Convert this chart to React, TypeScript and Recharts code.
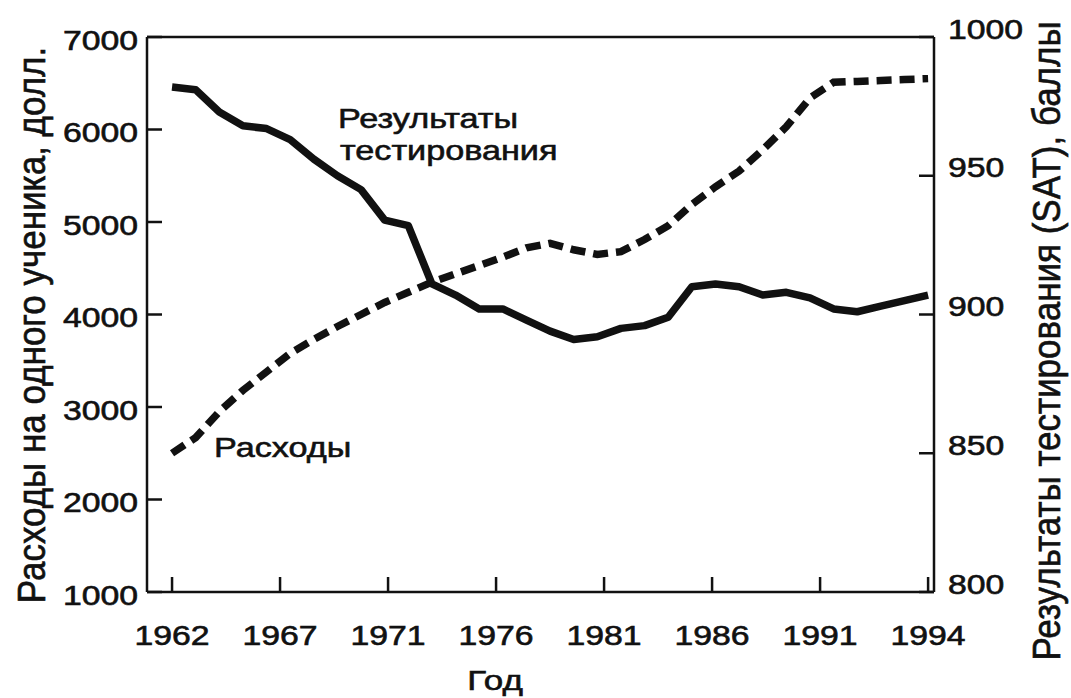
import React from 'react';
import { LineChart, Line, XAxis, YAxis, ReferenceLine } from 'recharts';

// годы наблюдений
const YEARS = [
  1962, 1963, 1964, 1965, 1966, 1967, 1968, 1969, 1970, 1971, 1972,
  1973, 1974, 1975, 1976, 1977, 1978, 1979, 1980, 1981, 1982, 1983,
  1984, 1985, 1986, 1987, 1988, 1989, 1990, 1991, 1992, 1993, 1994,
];

// расходы на одного ученика, долл. (левая ось)
const SPENDING = [
  2500, 2670, 2950, 3180, 3380, 3580, 3730, 3870, 4000, 4130, 4240,
  4350, 4440, 4530, 4620, 4720, 4770, 4700, 4650, 4680, 4810, 4960,
  5190, 5380, 5550, 5780, 6030, 6340, 6510, 6520, 6530, 6540, 6550,
];

// результаты SAT, баллы (правая ось)
const SAT = [
  982, 981, 973, 968, 967, 963, 956, 950, 945, 934, 932,
  911, 907, 902, 902, 898, 894, 891, 892, 895, 896, 899,
  910, 911, 910, 907, 908, 906, 902, 901, 903, 905, 907,
];

const X_LABELS = ['1962', '1967', '1971', '1976', '1981', '1986', '1991', '1994'];
const LEFT_TICKS = [1000, 2000, 3000, 4000, 5000, 6000, 7000];
const RIGHT_TICKS = [800, 850, 900, 950, 1000];

const data = YEARS.map((year, i) => ({ year, spend: SPENDING[i], sat: SAT[i] }));

// подписи на оси X стоят через равные промежутки
const xTicks = X_LABELS.map((_, i) => YEARS[0] + (i * (YEARS[YEARS.length - 1] - YEARS[0])) / (X_LABELS.length - 1));

const INK = '#111';
const FONT = "'Liberation Sans', Arial, sans-serif";
const STRETCH = 1.25;

// немного утолщаем шрифт, как на отсканированном оригинале
const heavy = { stroke: INK, strokeWidth: 0.6, paintOrder: 'stroke' } as const;

const LeftTick = (props: any) => {
  const { x, y, payload } = props;
  return (
    <g>
      <line x1={x} y1={y} x2={x + 15} y2={y} stroke={INK} strokeWidth={2.5} />
      <text
        transform={`translate(${x - 9},${y + 3}) scale(${STRETCH},1)`}
        textAnchor="end"
        dominantBaseline="central"
        fontSize={27}
        fontFamily={FONT}
        fill={INK}
        {...heavy}
      >
        {payload.value}
      </text>
    </g>
  );
};

const RightTick = (props: any) => {
  const { x, y, payload } = props;
  return (
    <g>
      <line x1={x} y1={y} x2={x - 15} y2={y} stroke={INK} strokeWidth={2.5} />
      <text
        transform={`translate(${x + 14},${y - 8}) scale(${STRETCH},1)`}
        textAnchor="start"
        dominantBaseline="central"
        fontSize={27}
        fontFamily={FONT}
        fill={INK}
        {...heavy}
      >
        {payload.value}
      </text>
    </g>
  );
};

const BottomTick = (props: any) => {
  const { x, y, index } = props;
  return (
    <g>
      <line x1={x} y1={y} x2={x} y2={y - 15} stroke={INK} strokeWidth={2.5} />
      <text
        transform={`translate(${x},${y + 43}) scale(${STRETCH},1)`}
        textAnchor="middle"
        dominantBaseline="central"
        fontSize={27}
        fontFamily={FONT}
        fill={INK}
        {...heavy}
      >
        {X_LABELS[index]}
      </text>
    </g>
  );
};

const App: React.FC = () => {
  return (
    <div style={{ position: 'absolute', left: 0, top: 0, width: 1071, height: 698, background: '#fff' }}>
      <LineChart width={1071} height={698} data={data} margin={{ top: 37, right: 0, bottom: 0, left: 0 }}>
        <XAxis
          dataKey="year"
          type="number"
          domain={[1960.94, 1994.25]}
          allowDataOverflow
          ticks={xTicks}
          interval={0}
          height={106}
          tickSize={0}
          tickMargin={0}
          tickLine={false}
          tick={<BottomTick />}
          axisLine={{ stroke: INK, strokeWidth: 2.5 }}
        />
        <YAxis
          yAxisId="left"
          domain={[1000, 7000]}
          ticks={LEFT_TICKS}
          interval={0}
          width={147}
          tickSize={0}
          tickMargin={0}
          tickLine={false}
          tick={<LeftTick />}
          axisLine={{ stroke: INK, strokeWidth: 2.5 }}
        />
        <YAxis
          yAxisId="right"
          orientation="right"
          domain={[800, 1000]}
          ticks={RIGHT_TICKS}
          interval={0}
          width={137}
          tickSize={0}
          tickMargin={0}
          tickLine={false}
          tick={<RightTick />}
          axisLine={{ stroke: INK, strokeWidth: 2.5 }}
        />
        <ReferenceLine yAxisId="left" y={7000} stroke={INK} strokeWidth={2.5} />
        <Line
          yAxisId="right"
          type="linear"
          dataKey="sat"
          stroke={INK}
          strokeWidth={7.5}
          strokeLinejoin="round"
          dot={false}
          isAnimationActive={false}
        />
        <Line
          yAxisId="left"
          type="linear"
          dataKey="spend"
          stroke={INK}
          strokeWidth={7.5}
          strokeDasharray="15 8"
          dot={false}
          isAnimationActive={false}
        />
      </LineChart>
      <svg
        width={1071}
        height={698}
        style={{ position: 'absolute', left: 0, top: 0, pointerEvents: 'none' }}
        fontFamily={FONT}
        fill={INK}
      >
        <g {...heavy}>
          <text transform={`translate(338,128) scale(1.2,1)`} fontSize={28.5}>Результаты</text>
          <text transform={`translate(340,160) scale(1.2,1)`} fontSize={28.5}>тестирования</text>
          <text transform={`translate(214,457) scale(1.2,1)`} fontSize={28.5}>Расходы</text>
          <text
            transform={`translate(495,680) scale(${STRETCH},1)`}
            textAnchor="middle"
            dominantBaseline="central"
            fontSize={28}
          >
            Год
          </text>
          <text
            transform={`translate(32,325) rotate(-90) scale(1,1.1)`}
            textAnchor="middle"
            dominantBaseline="central"
            fontSize={35}
          >
            Расходы на одного ученика, долл.
          </text>
          <text
            transform={`translate(1047,341) rotate(-90) scale(1,1.1)`}
            textAnchor="middle"
            dominantBaseline="central"
            fontSize={35}
          >
            Результаты тестирования (SAT), баллы
          </text>
        </g>
      </svg>
    </div>
  );
};

export default App;
